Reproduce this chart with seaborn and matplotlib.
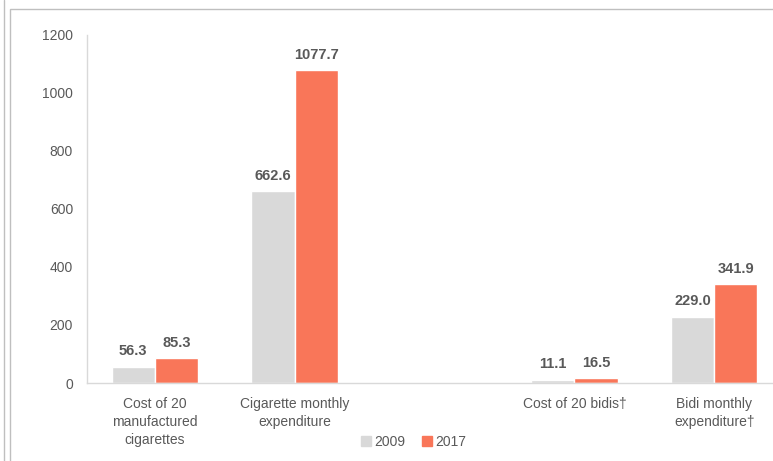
import matplotlib
matplotlib.use("Agg")
import matplotlib.pyplot as plt
import seaborn as sns
import pandas as pd
from matplotlib.patches import Rectangle
from matplotlib.lines import Line2D

categories = ["Cost of 20\nmanufactured\ncigarettes", "Cigarette monthly\nexpenditure", " ",
              "Cost of 20 bidis\u2020", "Bidi monthly\nexpenditure\u2020"]
values_2009 = [56.3, 662.6, None, 11.1, 229.0]
values_2017 = [85.3, 1077.7, None, 16.5, 341.9]
years = ["2009", "2017"]
yticks = [0, 200, 400, 600, 800, 1000, 1200]

colors = {"2009": "#D9D9D9", "2017": "#F97659"}
text_color = "#595959"

rows = []
for c, a, b in zip(categories, values_2009, values_2017):
    rows.append({"cat": c, "year": "2009", "val": a})
    rows.append({"cat": c, "year": "2017", "val": b})
df = pd.DataFrame(rows)

sns.set_theme(style="white")
plt.rcParams['font.family'] = ['Liberation Sans Narrow', 'Liberation Sans', 'DejaVu Sans']

fig = plt.figure(figsize=(7.73, 4.61), dpi=100)
W, H = 773, 461
ax = fig.add_axes([87 / W, 1 - 383 / H, 699 / W, (383 - 35) / H])

sns.barplot(data=df, x="cat", y="val", hue="year", order=categories, hue_order=years,
            palette=colors, width=0.62, ax=ax, legend=False, saturation=1)

ax.set_ylim(0, 1200)
ax.set_xlim(-0.486, 4.514)
ax.set_yticks(yticks)
ax.set_yticklabels([str(t) for t in yticks], color=text_color, fontsize=10)
ax.tick_params(axis='y', length=0, pad=10)
ax.tick_params(axis='x', length=0, pad=10, labelsize=10, labelcolor=text_color)
for lbl in ax.get_xticklabels():
    lbl.set_verticalalignment('top')
    lbl.set_linespacing(1.35)
ax.set_xlabel("")
ax.set_ylabel("")
for s in ["top", "right"]:
    ax.spines[s].set_visible(False)
for s in ["left", "bottom"]:
    ax.spines[s].set_color("#D9D9D9")
    ax.spines[s].set_linewidth(1.0)

for container in ax.containers:
    labels = [("%.1f" % v) if (v == v and v is not None) else "" for v in container.datavalues]
    ax.bar_label(container, labels=labels, padding=6, fontsize=10.5, fontweight='bold',
                 color=text_color)

# legend
handles = [Line2D([0], [0], marker='s', linestyle='', markersize=7,
                  markerfacecolor=colors[y], markeredgecolor=colors[y]) for y in years]
fig.legend(handles, years, loc='center', bbox_to_anchor=(412 / W, 1 - 442 / H), ncol=2,
           frameon=False, fontsize=10, handletextpad=0.0, columnspacing=1.0,
           handlelength=1.2, labelcolor=text_color)

# outer frame lines
fig.add_artist(Rectangle((9.5 / W, -0.1), 1.2, 1 - 9.5 / H + 0.1, transform=fig.transFigure,
                         fill=False, edgecolor="#BFBFBF", linewidth=1.0))
fig.add_artist(Line2D([4 / W, 4 / W], [0, 1], transform=fig.transFigure,
                      color="#BFBFBF", linewidth=1.0))

fig.savefig("out.png", dpi=100)
